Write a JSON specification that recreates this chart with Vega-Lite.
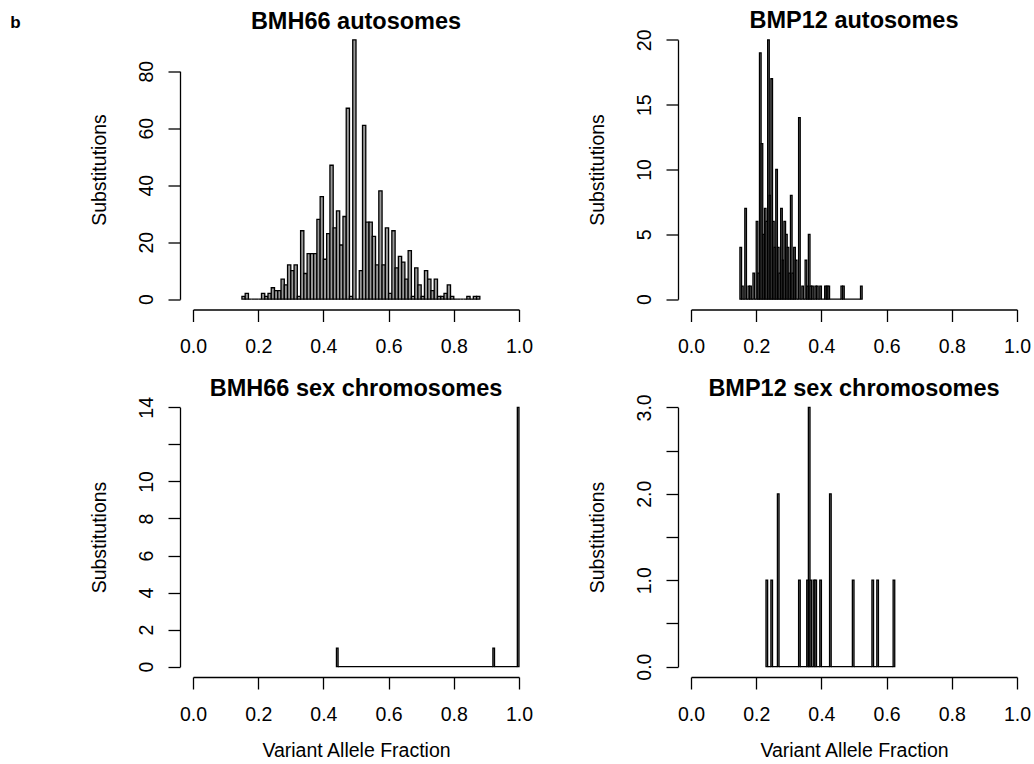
{
  "$schema": "https://vega.github.io/schema/vega-lite/v6.json",
  "padding": {"left": 10, "top": 8.5, "right": 0, "bottom": 0},
  "background": "white",
  "title": {"text": "b", "anchor": "start", "frame": "group", "fontSize": 17, "fontWeight": "bold", "font": "Liberation Sans", "color": "black", "baseline": "alphabetic", "offset": 0, "dx": -169.7, "dy": 35.5},
  "columns": 2,
  "bounds": "flush",
  "spacing": {"row": 87.5, "column": 146},
  "config": {
    "view": {"stroke": null},
    "font": "Liberation Sans",
    "axis": {"domainColor": "black", "domainWidth": 1.3, "tickColor": "black", "tickWidth": 1.3, "tickSize": 12, "labelColor": "black", "labelFontSize": 19.5, "labelFont": "Liberation Sans", "titleFont": "Liberation Sans", "titleFontSize": 19.5, "titleFontWeight": "normal", "titleColor": "black", "grid": false, "labelOverlap": false, "labelFlush": false, "labelBound": false},
    "title": {"font": "Liberation Sans", "fontSize": 23.5, "fontWeight": "bold", "color": "black", "anchor": "middle", "frame": "group", "baseline": "alphabetic", "offset": -3.5}
  },
  "datasets": {
    "tl": [
      {"start":0.15,"end":0.16,"count":1},{"start":0.16,"end":0.17,"count":2},{"start":0.17,"end":0.18,"count":0},{"start":0.18,"end":0.19,"count":0},
      {"start":0.19,"end":0.20,"count":0},{"start":0.20,"end":0.21,"count":0},{"start":0.21,"end":0.22,"count":2},{"start":0.22,"end":0.23,"count":1},
      {"start":0.23,"end":0.24,"count":2},{"start":0.24,"end":0.25,"count":4},{"start":0.25,"end":0.26,"count":3},{"start":0.26,"end":0.27,"count":3},
      {"start":0.27,"end":0.28,"count":7},{"start":0.28,"end":0.29,"count":5},{"start":0.29,"end":0.30,"count":12},{"start":0.30,"end":0.31,"count":10},
      {"start":0.31,"end":0.32,"count":12},{"start":0.32,"end":0.33,"count":1},{"start":0.33,"end":0.34,"count":24},{"start":0.34,"end":0.35,"count":9},
      {"start":0.35,"end":0.36,"count":16},{"start":0.36,"end":0.37,"count":16},{"start":0.37,"end":0.38,"count":16},{"start":0.38,"end":0.39,"count":28},
      {"start":0.39,"end":0.40,"count":36},{"start":0.40,"end":0.41,"count":14},{"start":0.41,"end":0.42,"count":23},{"start":0.42,"end":0.43,"count":47},
      {"start":0.43,"end":0.44,"count":25},{"start":0.44,"end":0.45,"count":31},{"start":0.45,"end":0.46,"count":19},{"start":0.46,"end":0.47,"count":29},
      {"start":0.47,"end":0.48,"count":67},{"start":0.48,"end":0.49,"count":1},{"start":0.49,"end":0.50,"count":91},{"start":0.50,"end":0.51,"count":0},
      {"start":0.51,"end":0.52,"count":10},{"start":0.52,"end":0.53,"count":61},{"start":0.53,"end":0.54,"count":27},{"start":0.54,"end":0.55,"count":27},
      {"start":0.55,"end":0.56,"count":22},{"start":0.56,"end":0.57,"count":12},{"start":0.57,"end":0.58,"count":38},{"start":0.58,"end":0.59,"count":12},
      {"start":0.59,"end":0.60,"count":25},{"start":0.60,"end":0.61,"count":2},{"start":0.61,"end":0.62,"count":24},{"start":0.62,"end":0.63,"count":11},
      {"start":0.63,"end":0.64,"count":15},{"start":0.64,"end":0.65,"count":13},{"start":0.65,"end":0.66,"count":7},{"start":0.66,"end":0.67,"count":17},
      {"start":0.67,"end":0.68,"count":1},{"start":0.68,"end":0.69,"count":11},{"start":0.69,"end":0.70,"count":5},{"start":0.70,"end":0.71,"count":1},
      {"start":0.71,"end":0.72,"count":10},{"start":0.72,"end":0.73,"count":7},{"start":0.73,"end":0.74,"count":3},{"start":0.74,"end":0.75,"count":7},
      {"start":0.75,"end":0.76,"count":1},{"start":0.76,"end":0.77,"count":1},{"start":0.77,"end":0.78,"count":2},{"start":0.78,"end":0.79,"count":5},
      {"start":0.79,"end":0.80,"count":1},{"start":0.80,"end":0.81,"count":0},{"start":0.81,"end":0.82,"count":0},{"start":0.82,"end":0.83,"count":0},
      {"start":0.83,"end":0.84,"count":0},{"start":0.84,"end":0.85,"count":1},{"start":0.85,"end":0.86,"count":0},{"start":0.86,"end":0.87,"count":1},
      {"start":0.87,"end":0.88,"count":1}
    ],
    "tr": [
      {"start":0.150,"end":0.155,"count":4},{"start":0.155,"end":0.160,"count":1},{"start":0.160,"end":0.165,"count":0},{"start":0.165,"end":0.170,"count":7},
      {"start":0.170,"end":0.175,"count":0},{"start":0.175,"end":0.180,"count":1},{"start":0.180,"end":0.185,"count":1},{"start":0.185,"end":0.190,"count":0},
      {"start":0.190,"end":0.195,"count":2},{"start":0.195,"end":0.200,"count":0},{"start":0.200,"end":0.205,"count":6},{"start":0.205,"end":0.210,"count":2},
      {"start":0.210,"end":0.215,"count":19},{"start":0.215,"end":0.220,"count":12},{"start":0.220,"end":0.225,"count":5},{"start":0.225,"end":0.230,"count":7},
      {"start":0.230,"end":0.235,"count":6},{"start":0.235,"end":0.240,"count":20},{"start":0.240,"end":0.245,"count":8},{"start":0.245,"end":0.250,"count":17},
      {"start":0.250,"end":0.255,"count":6},{"start":0.255,"end":0.260,"count":4},{"start":0.260,"end":0.265,"count":10},{"start":0.265,"end":0.270,"count":4},
      {"start":0.270,"end":0.275,"count":2},{"start":0.275,"end":0.280,"count":7},{"start":0.280,"end":0.285,"count":3},{"start":0.285,"end":0.290,"count":6},
      {"start":0.290,"end":0.295,"count":5},{"start":0.295,"end":0.300,"count":4},{"start":0.300,"end":0.305,"count":2},{"start":0.305,"end":0.310,"count":8},
      {"start":0.310,"end":0.315,"count":2},{"start":0.315,"end":0.320,"count":4},{"start":0.320,"end":0.325,"count":3},{"start":0.325,"end":0.330,"count":0},
      {"start":0.330,"end":0.335,"count":14},{"start":0.335,"end":0.340,"count":0},{"start":0.340,"end":0.345,"count":1},{"start":0.345,"end":0.350,"count":0},
      {"start":0.350,"end":0.355,"count":3},{"start":0.355,"end":0.360,"count":1},{"start":0.360,"end":0.365,"count":5},{"start":0.365,"end":0.370,"count":1},
      {"start":0.370,"end":0.375,"count":1},{"start":0.375,"end":0.380,"count":0},{"start":0.380,"end":0.385,"count":1},{"start":0.385,"end":0.390,"count":1},
      {"start":0.390,"end":0.395,"count":0},{"start":0.395,"end":0.400,"count":1},{"start":0.400,"end":0.410,"count":0},{"start":0.410,"end":0.415,"count":1},
      {"start":0.415,"end":0.420,"count":1},{"start":0.420,"end":0.425,"count":1},{"start":0.425,"end":0.460,"count":0},{"start":0.460,"end":0.465,"count":1},
      {"start":0.465,"end":0.470,"count":1},{"start":0.470,"end":0.520,"count":0},{"start":0.520,"end":0.525,"count":1}
    ],
    "bl": [
      {"start":0.440,"end":0.445,"count":1},{"start":0.445,"end":0.920,"count":0},{"start":0.920,"end":0.925,"count":1},
      {"start":0.925,"end":0.995,"count":0},{"start":0.995,"end":1.000,"count":14}
    ],
    "br": [
      {"start":0.230,"end":0.235,"count":1},{"start":0.235,"end":0.245,"count":0},{"start":0.245,"end":0.250,"count":1},{"start":0.250,"end":0.265,"count":0},
      {"start":0.265,"end":0.270,"count":2},{"start":0.270,"end":0.330,"count":0},{"start":0.330,"end":0.335,"count":1},{"start":0.335,"end":0.355,"count":0},
      {"start":0.355,"end":0.360,"count":1},{"start":0.360,"end":0.365,"count":3},{"start":0.365,"end":0.370,"count":1},{"start":0.370,"end":0.375,"count":0},
      {"start":0.375,"end":0.380,"count":1},{"start":0.380,"end":0.385,"count":1},{"start":0.385,"end":0.395,"count":0},{"start":0.395,"end":0.400,"count":1},
      {"start":0.400,"end":0.425,"count":0},{"start":0.425,"end":0.430,"count":2},{"start":0.430,"end":0.495,"count":0},{"start":0.495,"end":0.500,"count":1},
      {"start":0.500,"end":0.555,"count":0},{"start":0.555,"end":0.560,"count":1},{"start":0.560,"end":0.570,"count":0},{"start":0.570,"end":0.575,"count":1},
      {"start":0.575,"end":0.620,"count":0},{"start":0.620,"end":0.625,"count":1}
    ]
  },
  "concat": [
    {
      "title": {"text": "BMH66 autosomes"},
      "width": 352, "height": 280,
      "data": {"name": "tl"},
      "mark": {"type": "rect", "fill": "#9a9a9a", "stroke": "black", "strokeWidth": 1.3},
      "encoding": {
        "x": {"field": "start", "type": "quantitative", "scale": {"domain": [-0.04, 1.04], "nice": false, "zero": false},
              "axis": {"values": [0, 0.2, 0.4, 0.6, 0.8, 1], "format": ".1f", "title": null, "domainDash": [0, 13.04, 325.93, 2000], "labelAngle": 0, "labelAlign": "center", "labelBaseline": "alphabetic", "labelPadding": 31}},
        "x2": {"field": "end"},
        "y": {"field": "count", "type": "quantitative", "scale": {"domain": [-3.64, 94.64], "nice": false, "zero": false},
              "axis": {"values": [0, 20, 40, 60, 80], "title": "Substitutions", "domainDash": [0, 10.37, 227.9, 2000], "labelAngle": 270, "labelAlign": "center", "labelBaseline": "alphabetic", "labelPadding": 16, "titleAngle": 270, "titleAlign": "center", "titleBaseline": "alphabetic", "titleX": -75, "titleY": 140}},
        "y2": {"datum": 0}
      }
    },
    {
      "title": {"text": "BMP12 autosomes"},
      "width": 352, "height": 280,
      "data": {"name": "tr"},
      "mark": {"type": "rect", "fill": "#9a9a9a", "stroke": "black", "strokeWidth": 1.3},
      "encoding": {
        "x": {"field": "start", "type": "quantitative", "scale": {"domain": [-0.04, 1.04], "nice": false, "zero": false},
              "axis": {"values": [0, 0.2, 0.4, 0.6, 0.8, 1], "format": ".1f", "title": null, "domainDash": [0, 13.04, 325.93, 2000], "labelAngle": 0, "labelAlign": "center", "labelBaseline": "alphabetic", "labelPadding": 31}},
        "x2": {"field": "end"},
        "y": {"field": "count", "type": "quantitative", "scale": {"domain": [-0.8, 20.8], "nice": false, "zero": false},
              "axis": {"values": [0, 5, 10, 15, 20], "title": "Substitutions", "domainDash": [0, 10.37, 259.26, 2000], "labelAngle": 270, "labelAlign": "center", "labelBaseline": "alphabetic", "labelPadding": 16, "titleAngle": 270, "titleAlign": "center", "titleBaseline": "alphabetic", "titleX": -75, "titleY": 140}},
        "y2": {"datum": 0}
      }
    },
    {
      "title": {"text": "BMH66 sex chromosomes"},
      "width": 352, "height": 280,
      "data": {"name": "bl"},
      "mark": {"type": "rect", "fill": "#9a9a9a", "stroke": "black", "strokeWidth": 1.3},
      "encoding": {
        "x": {"field": "start", "type": "quantitative", "scale": {"domain": [-0.04, 1.04], "nice": false, "zero": false},
              "axis": {"values": [0, 0.2, 0.4, 0.6, 0.8, 1], "format": ".1f", "title": "Variant Allele Fraction", "domainDash": [0, 13.04, 325.93, 2000], "labelAngle": 0, "labelAlign": "center", "labelBaseline": "alphabetic", "labelPadding": 31, "titleAngle": 0, "titleAlign": "center", "titleBaseline": "alphabetic", "titleX": 176, "titleY": 79}},
        "x2": {"field": "end"},
        "y": {"field": "count", "type": "quantitative", "scale": {"domain": [-0.56, 14.56], "nice": false, "zero": false},
              "axis": {"values": [0, 2, 4, 6, 8, 10, 12, 14], "labelExpr": "datum.value == 12 ? '' : datum.label", "title": "Substitutions", "domainDash": [0, 10.37, 259.26, 2000], "labelAngle": 270, "labelAlign": "center", "labelBaseline": "alphabetic", "labelPadding": 16, "titleAngle": 270, "titleAlign": "center", "titleBaseline": "alphabetic", "titleX": -75, "titleY": 140}},
        "y2": {"datum": 0}
      }
    },
    {
      "title": {"text": "BMP12 sex chromosomes", "dy": 3},
      "width": 352, "height": 280,
      "data": {"name": "br"},
      "mark": {"type": "rect", "fill": "#9a9a9a", "stroke": "black", "strokeWidth": 1.3},
      "encoding": {
        "x": {"field": "start", "type": "quantitative", "scale": {"domain": [-0.04, 1.04], "nice": false, "zero": false},
              "axis": {"values": [0, 0.2, 0.4, 0.6, 0.8, 1], "format": ".1f", "title": "Variant Allele Fraction", "domainDash": [0, 13.04, 325.93, 2000], "labelAngle": 0, "labelAlign": "center", "labelBaseline": "alphabetic", "labelPadding": 31, "titleAngle": 0, "titleAlign": "center", "titleBaseline": "alphabetic", "titleX": 176, "titleY": 79}},
        "x2": {"field": "end"},
        "y": {"field": "count", "type": "quantitative", "scale": {"domain": [-0.12, 3.12], "nice": false, "zero": false},
              "axis": {"values": [0, 0.5, 1, 1.5, 2, 2.5, 3], "labelExpr": "datum.value % 1 == 0 ? format(datum.value, '.1f') : ''", "title": "Substitutions", "domainDash": [0, 10.37, 259.26, 2000], "labelAngle": 270, "labelAlign": "center", "labelBaseline": "alphabetic", "labelPadding": 16, "titleAngle": 270, "titleAlign": "center", "titleBaseline": "alphabetic", "titleX": -75, "titleY": 140}},
        "y2": {"datum": 0}
      }
    }
  ]
}
